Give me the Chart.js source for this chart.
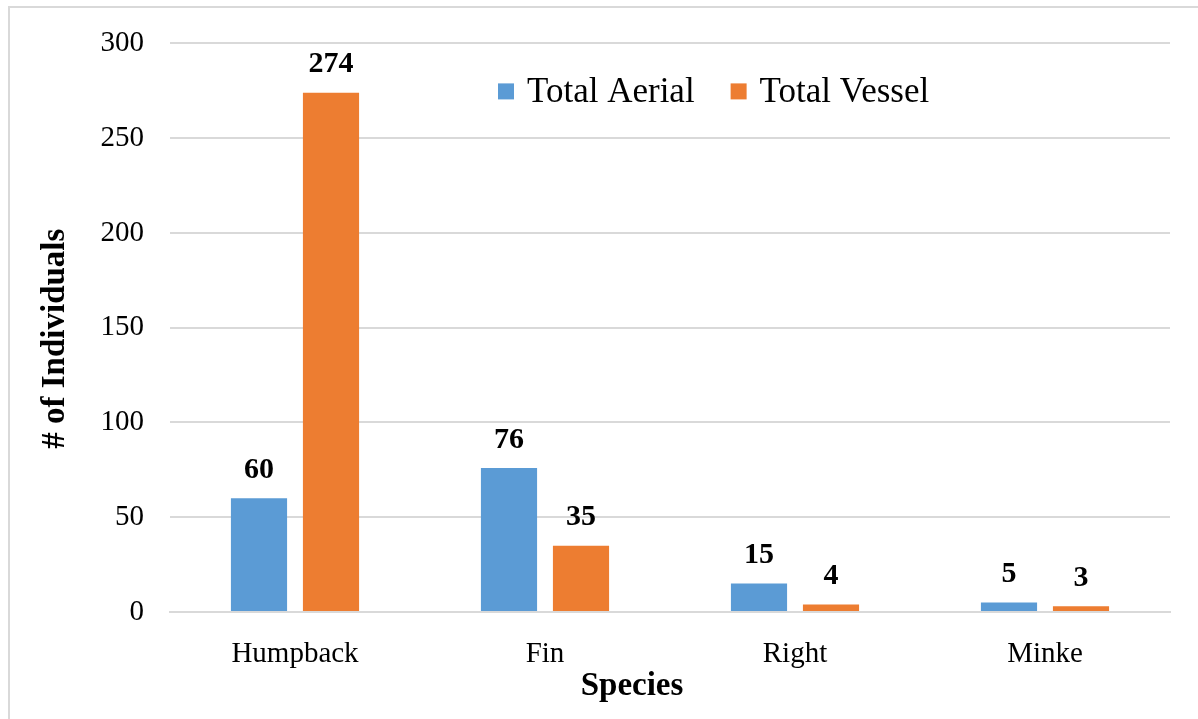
<!DOCTYPE html>
<html>
<head>
<meta charset="utf-8">
<script src="https://cdn.jsdelivr.net/npm/chart.js@4.4.1/dist/chart.umd.min.js"></script>
<style>
  html, body { margin: 0; padding: 0; background: #fff; }
  #frame {
    position: absolute; left: 8px; top: 6px; width: 1200px; height: 720px;
    border-left: 2px solid #d9d9d9; border-top: 2px solid #d9d9d9;
  }
  #wrap { position: absolute; left: 0; top: 0; width: 1198px; height: 719px; }
</style>
</head>
<body>
<div id="frame"></div>
<div id="wrap"><canvas id="whales"></canvas></div>
<script>
// Data
const species = ['Humpback', 'Fin', 'Right', 'Minke'];
const totalAerial = [60, 76, 15, 5];
const totalVessel = [274, 35, 4, 3];
const yTicks = [0, 50, 100, 150, 200, 250, 300];

const serif = '"Liberation Serif", "Times New Roman", serif';
const blue = '#5B9BD5';
const orange = '#ED7D31';

// Bold value labels above each bar
const valueLabels = {
  id: 'valueLabels',
  afterDatasetsDraw(c) {
    const { ctx } = c;
    ctx.save();
    ctx.font = 'bold 30px ' + serif;
    ctx.fillStyle = '#000';
    ctx.textAlign = 'center';
    ctx.textBaseline = 'middle';
    c.data.datasets.forEach((ds, i) => {
      c.getDatasetMeta(i).data.forEach((bar, j) => {
        ctx.fillText(ds.data[j], bar.x, bar.y - 28);
      });
    });
    ctx.restore();
  },
};

// Legend inside the plot plus the two axis titles
const extras = {
  id: 'extras',
  afterDraw(c) {
    const { ctx, chartArea: a } = c;
    ctx.save();
    // legend
    ctx.font = '35px ' + serif;
    ctx.textBaseline = 'middle';
    ctx.textAlign = 'left';
    let x = a.left + 328;
    const y = a.top + 48;
    c.data.datasets.forEach((ds) => {
      ctx.fillStyle = ds.backgroundColor;
      ctx.fillRect(x, y - 8, 16, 16);
      ctx.fillStyle = '#000';
      ctx.fillText(ds.label, x + 29, y + 1);
      x += 29 + ctx.measureText(ds.label).width + 36;
    });
    // x title
    ctx.font = 'bold 33px ' + serif;
    ctx.textAlign = 'center';
    ctx.fillText('Species', (a.left + a.right) / 2 - 38, 686);
    // y title
    ctx.translate(55, (a.top + a.bottom) / 2 + 11);
    ctx.rotate(-Math.PI / 2);
    ctx.fillText('# of Individuals', 0, 0);
    ctx.restore();
  },
};

new Chart(document.getElementById('whales'), {
  type: 'bar',
  data: {
    labels: species,
    datasets: [
      {
        label: 'Total Aerial',
        data: totalAerial,
        backgroundColor: blue,
        categoryPercentage: 0.576,
        barPercentage: 0.78,
      },
      {
        label: 'Total Vessel',
        data: totalVessel,
        backgroundColor: orange,
        categoryPercentage: 0.576,
        barPercentage: 0.78,
      },
    ],
  },
  options: {
    responsive: true,
    maintainAspectRatio: false,
    animation: false,
    layout: {
      padding: { top: 43, right: 28, bottom: 0, left: 0 },
    },
    scales: {
      x: {
        grid: { display: false },
        border: { color: '#d9d9d9', width: 2 },
        ticks: {
          color: '#000',
          font: { family: serif, size: 29 },
          padding: 17,
        },
        afterFit: (s) => { s.height = 719 - 612; },
      },
      y: {
        min: 0,
        max: 300,
        afterBuildTicks: (s) => { s.ticks = yTicks.map(v => ({ value: v })); },
        grid: { color: '#d9d9d9', lineWidth: 2, drawTicks: false },
        border: { display: false },
        ticks: {
          color: '#000',
          font: { family: serif, size: 29 },
          padding: 26,
        },
        afterFit: (s) => { s.width = 170; },
      },
    },
    plugins: {
      legend: { display: false },
      tooltip: { enabled: false },
    },
  },
  plugins: [valueLabels, extras],
});
</script>
</body>
</html>
